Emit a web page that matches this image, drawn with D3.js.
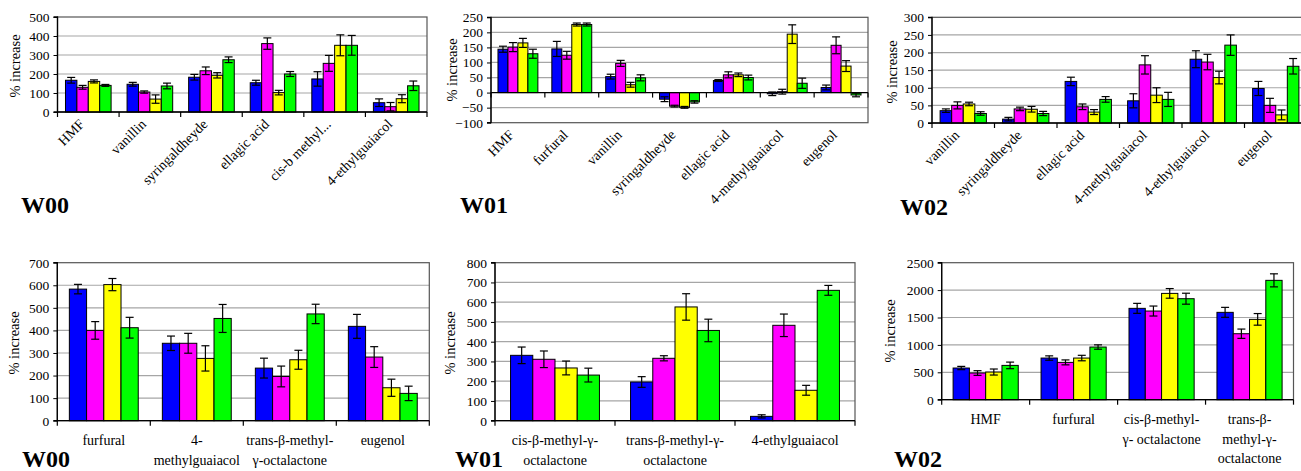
<!DOCTYPE html>
<html>
<head>
<meta charset="utf-8">
<script src="https://cdn.jsdelivr.net/npm/d3@7"></script>
<style>
  body { margin: 0; background: #fff; }
  svg { display: block; }
</style>
</head>
<body>
<svg id="chart" width="1301" height="471"></svg>
<script>
// ---------- data ----------
const seriesColors = ["#0000ff", "#ff00ff", "#ffff00", "#00ff00"];

// W00, upper chart
const w00TopCategories = ["HMF", "vanillin", "syringaldheyde", "ellagic acid", "cis-b methyl...", "4-ethylguaiacol"];
const w00TopValues = [[167, 130, 161, 140], [146, 105, 68, 137], [183, 217, 193, 275], [154, 360, 102, 200], [174, 256, 351, 351], [49, 28, 70, 138]];
const w00TopErrors = [[15, 10, 8, 5], [10, 6, 22, 15], [15, 20, 14, 15], [13, 30, 12, 13], [38, 42, 55, 52], [20, 22, 21, 25]];
const w00TopTicks = [0, 100, 200, 300, 400, 500];

// W01, upper chart
const w01TopCategories = ["HMF", "furfural", "vanillin", "syringaldheyde", "ellagic acid", "4-methylguaiacol", "eugenol"];
const w01TopValues = [[144, 151, 165, 129], [145, 124, 226, 226], [53, 97, 26, 49], [-22, -45, -49, -31], [40, 59, 59, 50], [-4, 3, 194, 31], [17, 157, 88, -8]];
const w01TopErrors = [[10, 15, 15, 15], [25, 13, 5, 5], [8, 10, 8, 10], [8, 3, 3, 4], [3, 10, 6, 8], [6, 8, 31, 17], [8, 28, 18, 6]];
const w01TopTicks = [-100, -50, 0, 50, 100, 150, 200, 250];

// W02, upper chart
const w02TopCategories = ["vanillin", "syringaldheyde", "ellagic acid", "4-methylguaiacol", "4-ethylguaiacol", "eugenol"];
const w02TopValues = [[35, 50, 54, 27], [11, 40, 39, 27], [118, 46, 31, 67], [63, 165, 79, 67], [181, 173, 129, 221], [98, 50, 23, 161]];
const w02TopErrors = [[5, 10, 5, 5], [5, 5, 8, 6], [12, 8, 7, 8], [20, 26, 21, 20], [24, 22, 18, 29], [20, 20, 14, 22]];
const w02TopTicks = [0, 50, 100, 150, 200, 250, 300];

// W00, lower chart
const w00BottomCategories = ["furfural", "4-\nmethylguaiacol", "trans-\u03b2-methyl-\n\u03b3-octalactone", "eugenol"];
const w00BottomValues = [[583, 400, 603, 412], [343, 343, 276, 453], [233, 196, 270, 473], [418, 282, 146, 121]];
const w00BottomErrors = [[21, 39, 27, 46], [32, 44, 56, 62], [44, 46, 42, 43], [53, 46, 38, 32]];
const w00BottomTicks = [0, 100, 200, 300, 400, 500, 600, 700];

// W01, lower chart
const w01BottomCategories = ["cis-\u03b2-methyl-\u03b3-\noctalactone", "trans-\u03b2-methyl-\u03b3-\noctalactone", "4-ethylguaiacol"];
const w01BottomValues = [[331, 311, 267, 231], [196, 316, 576, 457], [22, 483, 154, 660]];
const w01BottomErrors = [[42, 42, 35, 35], [27, 13, 67, 57], [8, 57, 25, 25]];
const w01BottomTicks = [0, 100, 200, 300, 400, 500, 600, 700, 800];

// W02, lower chart
const w02BottomCategories = ["HMF", "furfural", "cis-\u03b2-methyl-\n\u03b3- octalactone", "trans-\u03b2-\nmethyl-\u03b3-\noctalactone"];
const w02BottomValues = [[578, 487, 505, 626], [760, 681, 760, 961], [1667, 1618, 1940, 1843], [1594, 1204, 1466, 2178]];
const w02BottomErrors = [[30, 43, 55, 60], [40, 45, 50, 40], [91, 91, 88, 100], [91, 85, 106, 119]];
const w02BottomTicks = [0, 500, 1000, 1500, 2000, 2500];

const yTitle = "% increase";

// ---------- layout ----------
const FONT = "'Liberation Serif', 'DejaVu Serif', serif";

const panels = [
  { name: "W00", cats: w00TopCategories, vals: w00TopValues, errs: w00TopErrors, ticks: w00TopTicks,
    x0: 57.5, x1: 427, top: 17, bottom: 112, rotated: true, nameX: 21, nameY: 213, titleX: 15, titleY: 66 },
  { name: "W01", cats: w01TopCategories, vals: w01TopValues, errs: w01TopErrors, ticks: w01TopTicks,
    x0: 491, x1: 868, top: 17.3, bottom: 122.7, rotated: true, nameX: 460, nameY: 213, titleX: 452, titleY: 70 },
  { name: "W02", cats: w02TopCategories, vals: w02TopValues, errs: w02TopErrors, ticks: w02TopTicks,
    x0: 932, x1: 1307, top: 17.3, bottom: 123, rotated: true, nameX: 900, nameY: 215, titleX: 892, titleY: 72 },
  { name: "W00", cats: w00BottomCategories, vals: w00BottomValues, errs: w00BottomErrors, ticks: w00BottomTicks,
    x0: 57.3, x1: 429.3, top: 262.7, bottom: 420.7, rotated: false, nameX: 22, nameY: 467, titleX: 14, titleY: 343 },
  { name: "W01", cats: w01BottomCategories, vals: w01BottomValues, errs: w01BottomErrors, ticks: w01BottomTicks,
    x0: 495, x1: 855, top: 262.7, bottom: 420.7, rotated: false, nameX: 455, nameY: 467, titleX: 450, titleY: 343 },
  { name: "W02", cats: w02BottomCategories, vals: w02BottomValues, errs: w02BottomErrors, ticks: w02BottomTicks,
    x0: 941.7, x1: 1293.5, top: 262.7, bottom: 399.7, rotated: false, nameX: 894, nameY: 467, titleX: 890, titleY: 331 }
];

const svg = d3.select("#chart");

panels.forEach(p => {
  const g = svg.append("g");
  const ticks = p.ticks;
  const y = d3.scaleLinear().domain([ticks[0], ticks[ticks.length - 1]]).range([p.bottom, p.top]);
  const x = d3.scaleBand().domain(p.cats).range([p.x0, p.x1]);
  const band = x.bandwidth();
  const barW = band / 5.4;
  const xs = d3.scaleBand().domain(d3.range(4)).range([0, barW * 4]);
  const groupOffset = (band - barW * 4) / 2;
  const zeroY = y(Math.max(0, ticks[0]));

  // gridlines
  g.append("g").selectAll("line")
    .data(ticks.filter(t => t !== 0 && t !== ticks[0] && t !== ticks[ticks.length - 1]))
    .join("line")
    .attr("x1", p.x0).attr("x2", p.x1)
    .attr("y1", d => y(d)).attr("y2", d => y(d))
    .attr("stroke", "#a6a6a6").attr("stroke-width", 1.2);

  // plot area frame
  g.append("rect")
    .attr("x", p.x0).attr("y", p.top)
    .attr("width", p.x1 - p.x0).attr("height", p.bottom - p.top)
    .attr("fill", "none").attr("stroke", "#555").attr("stroke-width", 1.2);

  // bars
  const groups = g.append("g").selectAll("g")
    .data(p.cats.map((c, i) => ({ cat: c, vals: p.vals[i], errs: p.errs[i] })))
    .join("g")
    .attr("transform", d => `translate(${x(d.cat) + groupOffset},0)`);

  groups.selectAll("rect")
    .data(d => d.vals.map((v, k) => ({ v, k, e: d.errs[k] })))
    .join("rect")
    .attr("x", d => xs(d.k))
    .attr("width", barW)
    .attr("y", d => Math.min(y(d.v), y(0)))
    .attr("height", d => Math.abs(y(d.v) - y(0)))
    .attr("fill", d => seriesColors[d.k])
    .attr("stroke", "#000").attr("stroke-width", 1);

  // error bars
  const eb = groups.selectAll("g.err")
    .data(d => d.vals.map((v, k) => ({ v, k, e: d.errs[k] })))
    .join("g").attr("class", "err")
    .attr("transform", d => `translate(${xs(d.k) + barW / 2},0)`);
  eb.append("line")
    .attr("x1", 0).attr("x2", 0)
    .attr("y1", d => y(d.v + d.e)).attr("y2", d => y(d.v - d.e))
    .attr("stroke", "#000").attr("stroke-width", 1.2);
  eb.selectAll("line.cap")
    .data(d => [d.v + d.e, d.v - d.e])
    .join("line").attr("class", "cap")
    .attr("x1", -4).attr("x2", 4)
    .attr("y1", d => y(d)).attr("y2", d => y(d))
    .attr("stroke", "#000").attr("stroke-width", 1.2);

  // y axis
  const yAxis = d3.axisLeft(y).tickValues(ticks).tickSize(4).tickPadding(4).tickFormat(d3.format("d"));
  const ya = g.append("g").attr("transform", `translate(${p.x0},0)`).call(yAxis)
    .attr("font-family", null).attr("font-size", null);
  ya.select(".domain").attr("stroke", "#000").attr("stroke-width", 1.3).attr("d", `M-4,${p.top}H0V${p.bottom}H-4`);
  ya.selectAll(".tick line").attr("stroke", "#000");
  ya.selectAll(".tick text").style("font-family", FONT).style("font-size", "13.5px").attr("fill", "#000");

  // x axis line at zero, ticks between categories
  g.append("line").attr("x1", p.x0).attr("x2", p.x1).attr("y1", zeroY).attr("y2", zeroY)
    .attr("stroke", "#000").attr("stroke-width", 1.3);
  const bounds = p.cats.map(c => x(c)).concat([p.x1]);
  g.append("g").selectAll("line").data(bounds).join("line")
    .attr("x1", d => d).attr("x2", d => d)
    .attr("y1", zeroY).attr("y2", zeroY + 5)
    .attr("stroke", "#000").attr("stroke-width", 1.2);

  // category labels
  if (p.rotated) {
    g.append("g").selectAll("text").data(p.cats).join("text")
      .attr("transform", d => `translate(${x(d) + band / 2 - 3},${p.bottom + 13}) rotate(-45)`)
      .attr("text-anchor", "end")
      .style("font-family", FONT).style("font-size", "14px")
      .text(d => d);
  } else {
    const lbl = g.append("g").selectAll("text").data(p.cats).join("text")
      .attr("text-anchor", "middle")
      .style("font-family", FONT).style("font-size", "14px")
      .attr("x", d => x(d) + band / 2)
      .attr("y", p.bottom + 24.5);
    lbl.selectAll("tspan").data(d => d.split("\n")).join("tspan")
      .attr("x", function () { return d3.select(this.parentNode).attr("x"); })
      .attr("dy", (d, i) => i === 0 ? 0 : 19.5)
      .text(d => d);
  }

  // axis title
  g.append("text")
    .attr("transform", `translate(${p.titleX},${p.titleY}) rotate(-90)`)
    .attr("text-anchor", "middle")
    .attr("dominant-baseline", "central")
    .style("font-family", FONT).style("font-size", "14.5px")
    .text(yTitle);

  // chart name
  g.append("text")
    .attr("x", p.nameX).attr("y", p.nameY)
    .style("font-family", FONT).style("font-size", "24px").style("font-weight", "bold")
    .text(p.name);
});
</script>
</body>
</html>
